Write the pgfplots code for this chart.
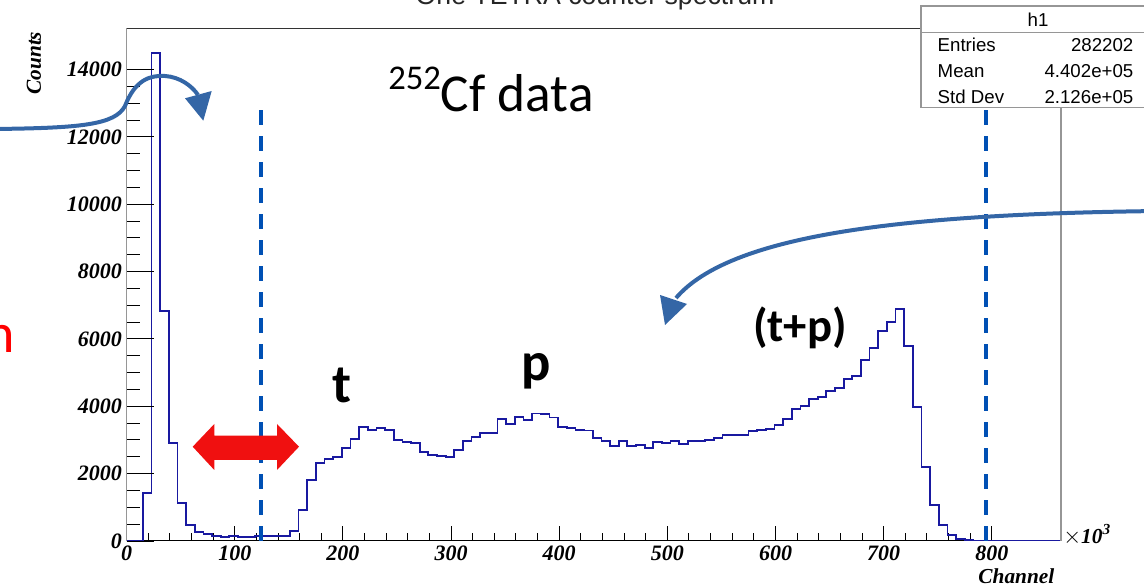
\documentclass[border=0pt]{standalone}
\usepackage{pgfplots}
\pgfplotsset{compat=1.18}
\usepackage{fontspec}
\setmainfont{Liberation Serif}
\newfontfamily\carlito{Carlito}
\newfontfamily\helv{Liberation Sans}
\definecolor{histblue}{RGB}{25,25,160}
\definecolor{dashblue}{RGB}{0,80,180}
\definecolor{arrowblue}{RGB}{52,102,166}
\definecolor{arrred}{RGB}{240,16,16}
\definecolor{framegray}{RGB}{150,150,150}
\begin{document}
\begin{tikzpicture}
\useasboundingbox (0,0) rectangle (858pt,441pt);
\begin{axis}[at={(94.95pt,35.25pt)}, anchor=south west, scale only axis,
  width=700.8pt, height=384.5pt,
  xmin=0, xmax=864, ymin=0, ymax=15225,
  axis x line*=bottom, axis y line=none,
  xtick={0,100,...,800}, ytick=\empty, minor x tick num=4,
  tick align=inside, major tick length=11.25pt, minor tick length=5.8pt,
  tick style={black, line width=0.75pt},
  x axis line style={black, line width=0.75pt, -},
  xticklabel style={font=\bfseries\itshape\fontsize{16.5}{17}\selectfont},
  /pgf/number format/assume math mode=true, scaled x ticks=false]
\addplot[const plot, color=histblue, line width=1.3pt] table {
x y
0 0
15 1425
23 14500
31 6830
39 2900
47 1119
55 475
63 277
71 198
79 158
87 119
95 138
103 119
111 119
119 138
127 158
135 158
143 138
151 297
159 920
167 1811
175 2306
183 2435
191 2504
199 2771
207 3028
215 3394
223 3286
231 3345
239 3286
247 2990
255 2930
263 2900
271 2642
279 2553
287 2533
295 2484
303 2711
311 2978
319 3088
327 3216
335 3216
343 3622
351 3464
359 3691
367 3602
375 3790
383 3780
391 3671
399 3384
407 3355
415 3305
423 3280
431 3050
439 2978
447 2830
455 2978
463 2830
471 2850
479 2761
487 2939
495 2900
503 2969
511 2880
519 2978
527 2959
535 3008
543 3058
551 3137
559 3157
567 3137
575 3256
583 3305
591 3335
599 3453
607 3632
615 3920
623 4000
631 4216
639 4266
647 4454
655 4552
663 4810
671 4908
679 5383
687 5730
695 6235
703 6512
711 6879
719 5799
727 3988
735 2206
743 1060
751 475
759 178
767 59
775 20
783 0
863 0
864 0
};
\draw[dashblue, line width=3pt, dash pattern=on 11.25pt off 8.25pt] (axis cs:124,0) -- (axis cs:124,12886);
\draw[dashblue, line width=3pt, dash pattern=on 11.25pt off 8.25pt] (axis cs:795,0) -- (axis cs:795,12886);
\end{axis}
\begin{axis}[at={(94.95pt,35.25pt)}, anchor=south west, scale only axis,
  width=700.8pt, height=384.5pt,
  xmin=0, xmax=864, ymin=0, ymax=15225,
  axis y line*=left, axis x line=none,
  ytick={0,2000,...,14000}, xtick=\empty, minor y tick num=3,
  tick align=inside, major tick length=20.25pt, minor tick length=9.75pt,
  tick style={black, line width=0.75pt},
  y axis line style={framegray, line width=0.9pt, -},
  yticklabel style={font=\bfseries\itshape\fontsize{16.5}{17}\selectfont},
  /pgf/number format/assume math mode=true,
  /pgf/number format/1000 sep={}, scaled y ticks=false]
\addplot[draw=none] coordinates {(0,0)};
\end{axis}
\begin{scope}[x=0.75pt, y=0.75pt]
% frame top and right
\draw[black!80, line width=0.75pt] (126.6,559.7) -- (921,559.7);
\draw[framegray, line width=0.9pt] (1061,481) -- (1061,47);
% title (cut off at the top edge, as in the reference)
\node[anchor=base, font=\helv\fontsize{20}{22}\selectfont, text=black!85] at (595,583.5) {One TETRA counter spectrum};
% stats box
\filldraw[fill=white, draw=framegray, line width=0.9pt] (921,582) rectangle (1160,480.7);
\draw[framegray, line width=0.9pt] (921,555.7) -- (1160,555.7);
\node[anchor=base, font=\helv\fontsize{14}{16}\selectfont] at (1038,561.3) {h1};
\node[anchor=base west, font=\helv\fontsize{14}{16}\selectfont] at (933,536.3) {Entries};
\node[anchor=base east, font=\helv\fontsize{14}{16}\selectfont] at (1138,536.3) {282202};
\node[anchor=base west, font=\helv\fontsize{14}{16}\selectfont] at (933,510.7) {Mean};
\node[anchor=base east, font=\helv\fontsize{14}{16}\selectfont] at (1138,510.7) {4.402e+05};
\node[anchor=base west, font=\helv\fontsize{14}{16}\selectfont] at (933,484.7) {Std Dev};
\node[anchor=base east, font=\helv\fontsize{14}{16}\selectfont] at (1138,484.7) {2.126e+05};
% axis titles
\node[rotate=90, anchor=east, font=\bfseries\itshape\fontsize{16}{17}\selectfont] at (34,561) {Counts};
\node[anchor=base east, font=\bfseries\itshape\fontsize{16}{17}\selectfont] at (1059,4.7) {Channel};
\node[anchor=west, font=\bfseries\itshape\fontsize{16}{17}\selectfont, inner sep=0pt] at (1063,53) {$\times$10\raisebox{0.45em}{\fontsize{11.5}{12}\selectfont 3}};
% annotations
\node[anchor=base east, inner sep=0pt, font=\carlito\fontsize{42}{44}\selectfont, text=red] at (15,235) {n};
\node[anchor=base west, inner sep=0pt, font=\carlito\fontsize{40}{44}\selectfont] at (388,476.5) {\raisebox{0.42em}{\fontsize{26}{28}\selectfont 252}Cf data};
\node[anchor=base, inner sep=0pt, font=\carlito\bfseries\fontsize{41}{44}\selectfont] at (342,185) {t};
\node[anchor=base, inner sep=0pt, font=\carlito\bfseries\fontsize{41}{44}\selectfont] at (536,207) {p};
\node[anchor=base, inner sep=0pt, font=\carlito\bfseries\fontsize{35}{38}\selectfont] at (800,246) {(t+p)};
% red double arrow
\fill[arrred] (192.7,141.3) -- (214.3,164) -- (214.3,152.3) -- (277,152.3) -- (277,164) -- (299,141.3) -- (277,118) -- (277,128) -- (214.3,128) -- (214.3,118) -- cycle;
% curved arrows
\draw[arrowblue, line width=3pt] (-5,459) .. controls (80,460) and (115,463) .. (125,482) .. controls (135,508) and (150,513) .. (165,512) .. controls (180,511) and (192,502) .. (198,493);
\fill[arrowblue] (203.3,467.3) -- (185,489.7) -- (211.7,497) -- cycle;
\draw[arrowblue, line width=3pt] (1160,377) .. controls (900,374) and (730,353) .. (676,290);
\fill[arrowblue] (665,263) -- (660,293) -- (687,284) -- cycle;
\end{scope}
\end{tikzpicture}
\end{document}
